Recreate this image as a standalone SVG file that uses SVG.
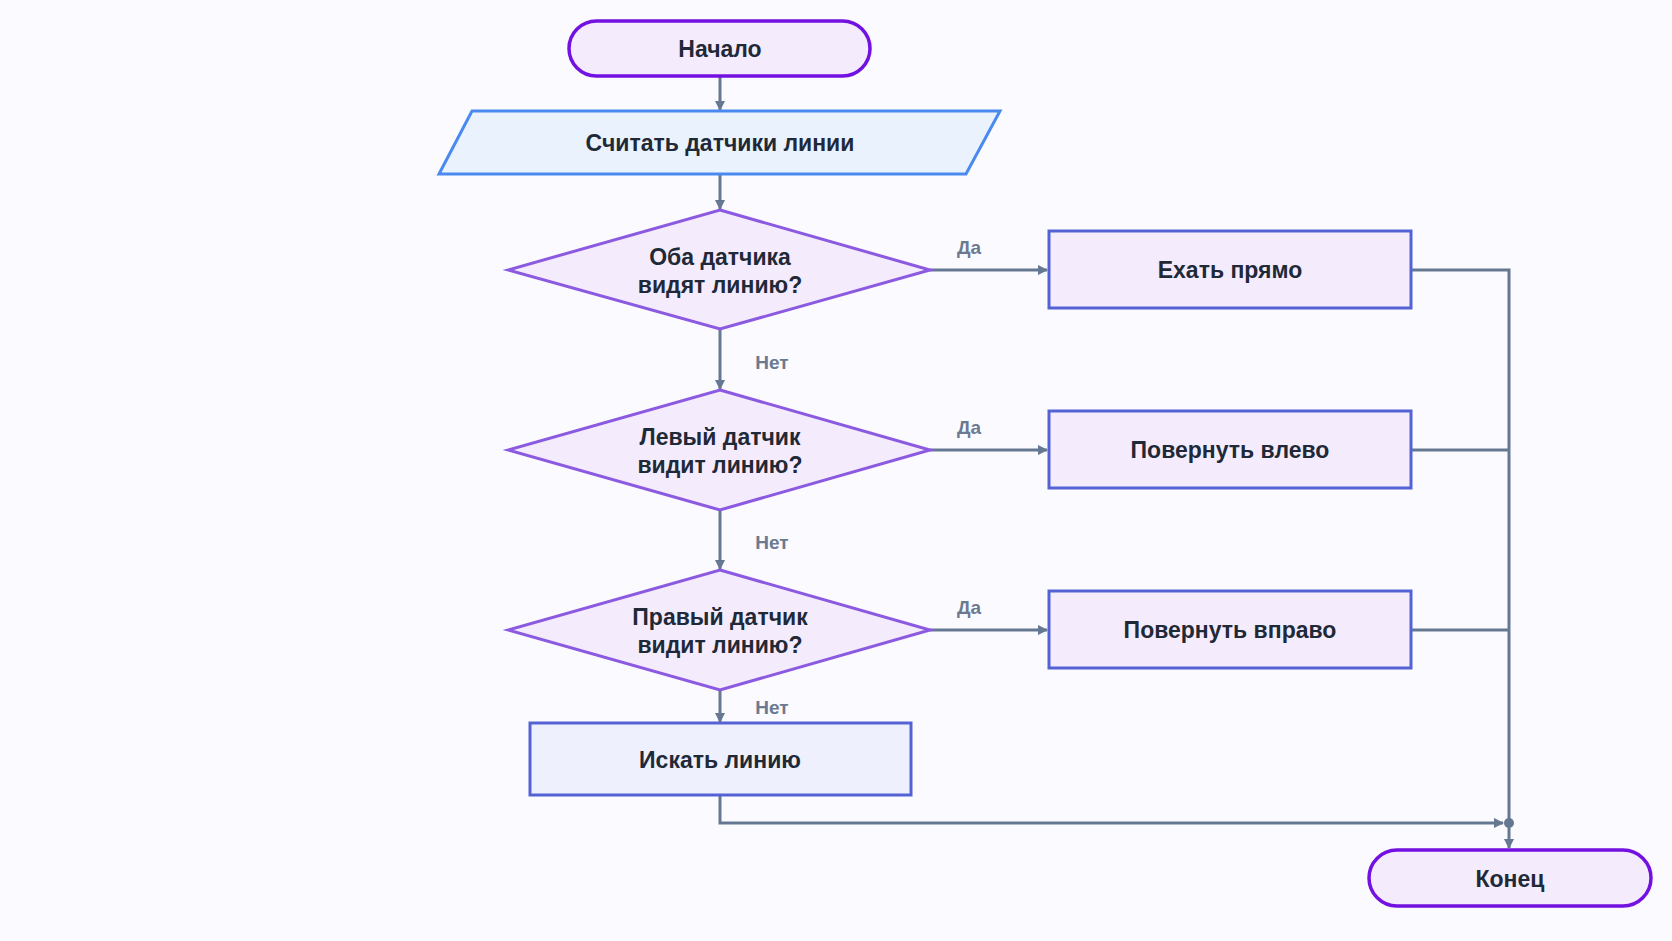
<svg xmlns="http://www.w3.org/2000/svg" width="1672" height="941" viewBox="0 0 1672 941">
<style>
text{font-family:"Liberation Sans",Arial,sans-serif;font-weight:bold;text-anchor:middle;dominant-baseline:central}
.t{font-size:23px;fill:#1f2937}
.l{font-size:19px;fill:#6b7a90}
.term{fill:#f4ecfd;stroke:#7311e0;stroke-width:3.5}
.dia{fill:#f4ecfd;stroke:#8b5ae0;stroke-width:3}
.proc{fill:#f4ecfd;stroke:#5463d4;stroke-width:3}
.c{fill:none;stroke:#667891;stroke-width:3}
</style>
<defs><marker id="a" markerWidth="10" markerHeight="10" refX="9" refY="5" orient="auto" markerUnits="userSpaceOnUse"><path d="M0,0L10,5L0,10z" fill="#667891"/></marker></defs>
<rect width="1672" height="941" fill="#fafaff"/>
<g id="connectors">
<path class="c" d="M720,76V110" marker-end="url(#a)"/>
<path class="c" d="M720,174V209" marker-end="url(#a)"/>
<path class="c" d="M720,329V389" marker-end="url(#a)"/>
<path class="c" d="M720,510V569" marker-end="url(#a)"/>
<path class="c" d="M720,690V722" marker-end="url(#a)"/>
<path class="c" d="M930,270H1047" marker-end="url(#a)"/>
<path class="c" d="M930,450H1047" marker-end="url(#a)"/>
<path class="c" d="M930,630H1047" marker-end="url(#a)"/>
<path class="c" d="M1411,270H1509V848" marker-end="url(#a)"/>
<path class="c" d="M1411,450H1509"/>
<path class="c" d="M1411,630H1509"/>
<path class="c" d="M720,795V823H1503" marker-end="url(#a)"/>
<circle cx="1509" cy="823" r="5" fill="#667891"/>
<text class="l" x="969" y="247">Да</text>
<text class="l" x="969" y="427">Да</text>
<text class="l" x="969" y="607">Да</text>
<text class="l" x="772" y="362">Нет</text>
<text class="l" x="772" y="542">Нет</text>
<text class="l" x="772" y="707">Нет</text>
</g>
<g id="start"><rect class="term" x="569" y="21" width="301" height="55" rx="27.5"/><text class="t" x="720" y="49">Начало</text></g>
<g id="read"><polygon points="472,111 1000,111 966,174 439,174" fill="#eaf2fe" stroke="#4a8af0" stroke-width="3"/><text class="t" x="720" y="143">Считать датчики линии</text></g>
<g id="d1"><polygon class="dia" points="720,210 930,270 720,329 508,270"/><text class="t" x="720" y="257">Оба датчика</text><text class="t" x="720" y="285">видят линию?</text></g>
<g id="d2"><polygon class="dia" points="720,390 930,450 720,510 508,450"/><text class="t" x="720" y="437">Левый датчик</text><text class="t" x="720" y="465">видит линию?</text></g>
<g id="d3"><polygon class="dia" points="720,570 930,630 720,690 508,630"/><text class="t" x="720" y="617">Правый датчик</text><text class="t" x="720" y="645">видит линию?</text></g>
<g id="straight"><rect class="proc" x="1049" y="231" width="362" height="77"/><text class="t" x="1230" y="270">Ехать прямо</text></g>
<g id="left"><rect class="proc" x="1049" y="411" width="362" height="77"/><text class="t" x="1230" y="450">Повернуть влево</text></g>
<g id="right"><rect class="proc" x="1049" y="591" width="362" height="77"/><text class="t" x="1230" y="630">Повернуть вправо</text></g>
<g id="search"><rect class="proc" x="530" y="723" width="381" height="72" fill="#eef0fd" style="fill:#eef0fd"/><text class="t" x="720" y="760">Искать линию</text></g>
<g id="end"><rect class="term" x="1369" y="850" width="282" height="56" rx="28"/><text class="t" x="1510" y="879">Конец</text></g>
</svg>
